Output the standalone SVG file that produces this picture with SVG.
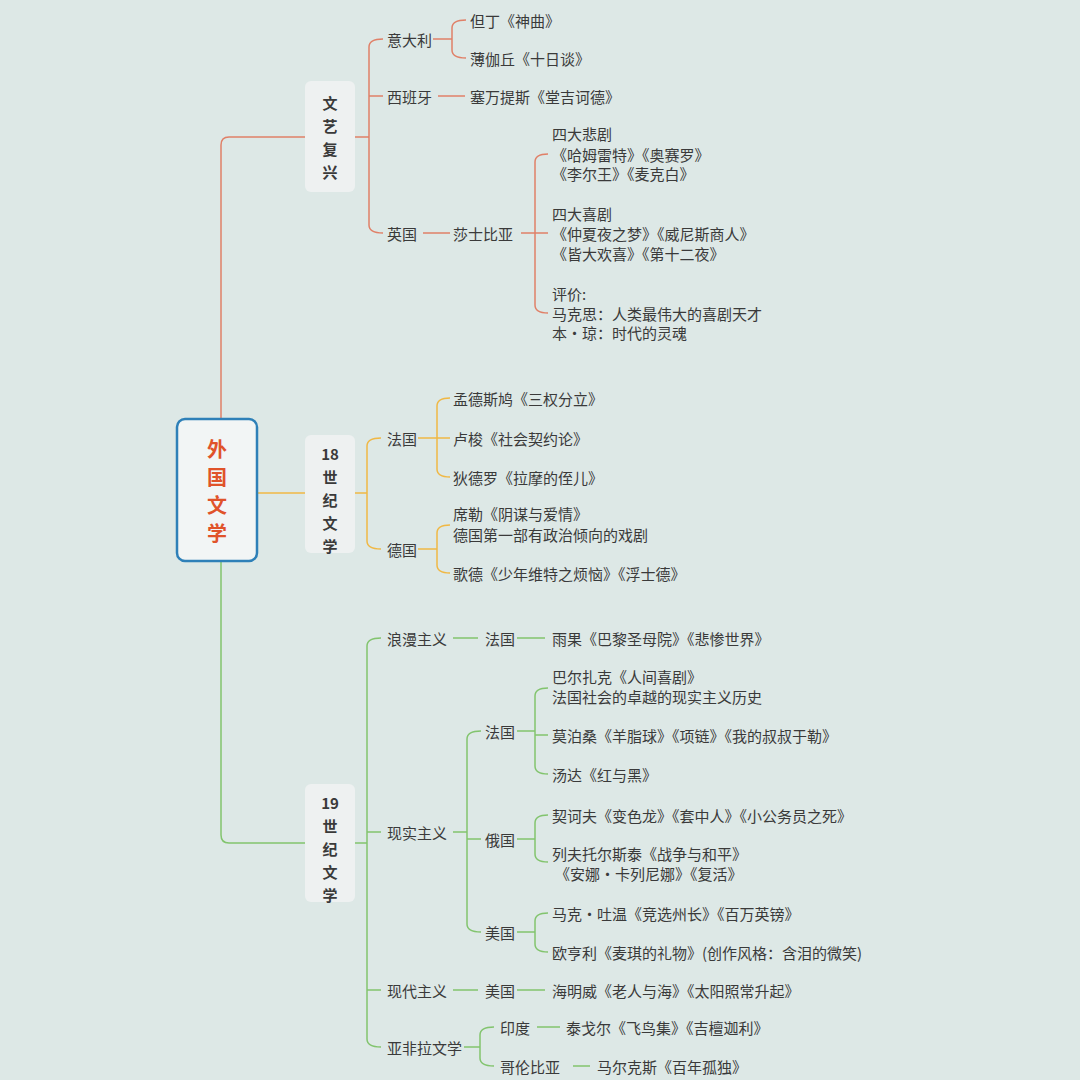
<svg xmlns="http://www.w3.org/2000/svg" width="1080" height="1080" viewBox="0 0 1080 1080">
<style>
text{font-family:"Noto Sans CJK SC","Noto Sans",sans-serif;font-size:15px;fill:#3a3a3a;dominant-baseline:central}
.r{stroke:#e08068;fill:none;stroke-width:1.5}
.o{stroke:#f0b845;fill:none;stroke-width:1.5}
.g{stroke:#82c46e;fill:none;stroke-width:1.5}
.box{fill:#eef1f1}
.bt{font-weight:bold;font-size:15px;text-anchor:middle}
.root{font-weight:bold;font-size:20px;fill:#e0532a;text-anchor:middle}
</style>
<rect width="1080" height="1080" fill="#dde8e6"/>
<g id="connectors">
<path class="r" d="M221 419 V145 Q221 137 229 137 H305"/>
<path class="o" d="M257 493 H305"/>
<path class="g" d="M221 561 V835 Q221 843 229 843 H305"/>
<path class="r" d="M355 137 H369 M383 39 Q369 39 369 47 V225 Q369 233 383 233 M369 96 Q369 96 383 96"/>
<path class="r" d="M433 39 H452 M466 20 Q452 20 452 28 V50 Q452 58 466 58"/>
<path class="r" d="M438 96 H465"/>
<path class="r" d="M423 233 H450 M521 233 H548 M548 154 Q535 154 535 162 V305 Q535 313 548 313"/>
<path class="o" d="M355 493 H367 M381 438 Q367 438 367 446 V541 Q367 549 381 549"/>
<path class="o" d="M418 438 H450 M450 398 Q437 398 437 406 V469 Q437 477 450 477"/>
<path class="o" d="M418 549 H437 M450 525 Q437 525 437 533 V565 Q437 573 450 573"/>
<path class="g" d="M355 843 H367 M381 638 Q367 638 367 646 V1039 Q367 1047 381 1047 M367 832 Q367 832 381 832 M367 990 Q367 990 381 990"/>
<path class="g" d="M453 638 H478 M517 638 H545"/>
<path class="g" d="M453 832 H467 M481 731 Q467 731 467 739 V924 Q467 932 481 932 M467 839 H481"/>
<path class="g" d="M517 731 H535 M548 688 Q535 688 535 696 V766 Q535 774 548 774 M535 735 H548"/>
<path class="g" d="M517 839 H535 M548 815 Q535 815 535 823 V854 Q535 862 548 862"/>
<path class="g" d="M517 932 H535 M548 913 Q535 913 535 921 V944 Q535 952 548 952"/>
<path class="g" d="M453 990 H478 M517 990 H545"/>
<path class="g" d="M464 1047 H480 M494 1027 Q480 1027 480 1035 V1058 Q480 1066 494 1066"/>
<path class="g" d="M537 1027 H560 M573 1066 H590"/>
</g>
<g id="root"><rect x="177" y="419" width="80" height="142" rx="8" fill="#f2f5f5" stroke="#2e80b8" stroke-width="2.5"/>
<text class="root" x="217" y="448">外</text><text class="root" x="217" y="476">国</text><text class="root" x="217" y="504">文</text><text class="root" x="217" y="532">学</text></g>
<g id="renaissance"><rect class="box" x="305" y="81" width="50" height="111" rx="6"/>
<text class="bt" x="330" y="102">文</text><text class="bt" x="330" y="125">艺</text><text class="bt" x="330" y="148">复</text><text class="bt" x="330" y="171">兴</text></g>
<g id="c18"><rect class="box" x="305" y="435" width="50" height="118" rx="6"/>
<text class="bt" x="330" y="453">18</text><text class="bt" x="330" y="476">世</text><text class="bt" x="330" y="499">纪</text><text class="bt" x="330" y="522">文</text><text class="bt" x="330" y="545">学</text></g>
<g id="c19"><rect class="box" x="305" y="784" width="50" height="118" rx="6"/>
<text class="bt" x="330" y="802">19</text><text class="bt" x="330" y="825">世</text><text class="bt" x="330" y="848">纪</text><text class="bt" x="330" y="871">文</text><text class="bt" x="330" y="894">学</text></g>
<g id="ren-items">
<text x="387" y="39">意大利</text><text x="470" y="20">但丁《神曲》</text><text x="470" y="58">薄伽丘《十日谈》</text>
<text x="387" y="96">西班牙</text><text x="470" y="96">塞万提斯《堂吉诃德》</text>
<text x="387" y="233">英国</text><text x="453" y="233">莎士比亚</text>
<text x="552" y="133">四大悲剧</text><text x="552" y="154">《哈姆雷特》《奥赛罗》</text><text x="552" y="173">《李尔王》《麦克白》</text>
<text x="552" y="213">四大喜剧</text><text x="552" y="233">《仲夏夜之梦》《威尼斯商人》</text><text x="552" y="253">《皆大欢喜》《第十二夜》</text>
<text x="552" y="293">评价:</text><text x="552" y="313">马克思：人类最伟大的喜剧天才</text><text x="552" y="332">本·琼：时代的灵魂</text>
</g>
<g id="c18-items">
<text x="387" y="438">法国</text><text x="453" y="398">孟德斯鸠《三权分立》</text><text x="453" y="438">卢梭《社会契约论》</text><text x="453" y="477">狄德罗《拉摩的侄儿》</text>
<text x="387" y="549">德国</text><text x="453" y="513">席勒《阴谋与爱情》</text><text x="453" y="534">德国第一部有政治倾向的戏剧</text><text x="453" y="573">歌德《少年维特之烦恼》《浮士德》</text>
</g>
<g id="c19-items">
<text x="387" y="638">浪漫主义</text><text x="485" y="638">法国</text><text x="552" y="638">雨果《巴黎圣母院》《悲惨世界》</text>
<text x="387" y="832">现实主义</text>
<text x="485" y="731">法国</text><text x="552" y="676">巴尔扎克《人间喜剧》</text><text x="552" y="696">法国社会的卓越的现实主义历史</text><text x="552" y="735">莫泊桑《羊脂球》《项链》《我的叔叔于勒》</text><text x="552" y="774">汤达《红与黑》</text>
<text x="485" y="839">俄国</text><text x="552" y="815">契诃夫《变色龙》《套中人》《小公务员之死》</text><text x="552" y="853">列夫托尔斯泰《战争与和平》</text><text x="555" y="873">《安娜·卡列尼娜》《复活》</text>
<text x="485" y="932">美国</text><text x="552" y="913">马克·吐温《竞选州长》《百万英镑》</text><text x="552" y="952">欧亨利《麦琪的礼物》(创作风格：含泪的微笑)</text>
<text x="387" y="990">现代主义</text><text x="485" y="990">美国</text><text x="552" y="990">海明威《老人与海》《太阳照常升起》</text>
<text x="387" y="1047">亚非拉文学</text><text x="500" y="1027">印度</text><text x="566" y="1027">泰戈尔《飞鸟集》《吉檀迦利》</text>
<text x="500" y="1066">哥伦比亚</text><text x="597" y="1066">马尔克斯《百年孤独》</text>
</g>
</svg>
